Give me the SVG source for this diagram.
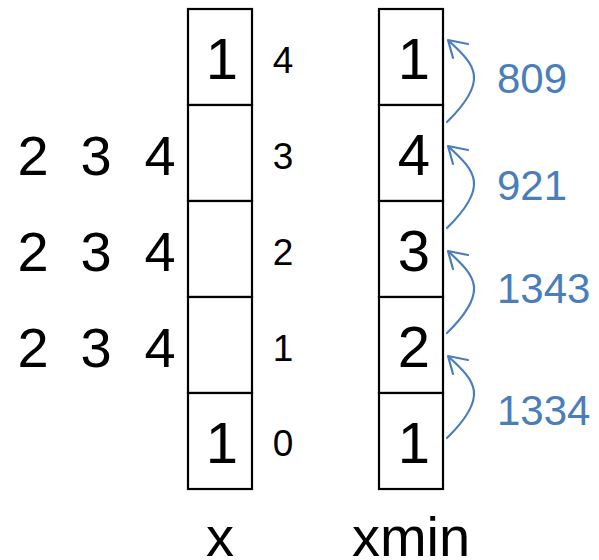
<svg xmlns="http://www.w3.org/2000/svg" xmlns:xlink="http://www.w3.org/1999/xlink" width="599" height="560" viewBox="0 0 599 560">
  <style>
    .cell { fill: #ffffff; stroke: #000000; stroke-width: 2.2; }
    .big { font-family: "Liberation Sans", Arial, sans-serif; font-size: 58px; fill: #000000; text-anchor: middle; }
    .side { font-family: "Liberation Sans", Arial, sans-serif; font-size: 56px; fill: #000000; text-anchor: middle; }
    .idx { font-family: "Liberation Sans", Arial, sans-serif; font-size: 37px; fill: #000000; text-anchor: middle; }
    .cost { font-family: "Liberation Sans", Arial, sans-serif; font-size: 42px; fill: #4a7ebb; }
    .arc { fill: none; stroke: #4a7ebb; stroke-width: 2.2; stroke-linecap: round; stroke-linejoin: round; }
  </style>
  <defs>
    <!-- curved link from one xmin cell up to the cell above; tip at (448,0) -->
    <g id="link">
      <path class="arc" d="M447,82 C490,40 475,25 449,1"/>
      <path class="arc" d="M468,4 L448,0 L453,18"/>
    </g>
  </defs>

  <rect width="599" height="560" fill="#ffffff"/>

  <!-- column x -->
  <g id="x-col">
    <rect class="cell" x="188" y="9" width="64" height="96"/>
    <rect class="cell" x="188" y="105" width="64" height="96"/>
    <rect class="cell" x="188" y="201" width="64" height="96"/>
    <rect class="cell" x="188" y="297" width="64" height="96"/>
    <rect class="cell" x="188" y="393" width="64" height="96"/>
    <text class="big" x="222" y="79">1</text>
    <text class="big" x="222" y="463">1</text>
    <text class="side" x="220" y="556">x</text>
  </g>

  <!-- candidate values beside x -->
  <g id="choices">
    <text class="side" x="33" y="175">2</text>
    <text class="side" x="96" y="175">3</text>
    <text class="side" x="160" y="175">4</text>
    <text class="side" x="33" y="271">2</text>
    <text class="side" x="96" y="271">3</text>
    <text class="side" x="160" y="271">4</text>
    <text class="side" x="33" y="367">2</text>
    <text class="side" x="96" y="367">3</text>
    <text class="side" x="160" y="367">4</text>
  </g>

  <!-- row indices -->
  <g id="indices">
    <text class="idx" x="283" y="73">4</text>
    <text class="idx" x="283" y="169">3</text>
    <text class="idx" x="283" y="265">2</text>
    <text class="idx" x="283" y="361">1</text>
    <text class="idx" x="283" y="456">0</text>
  </g>

  <!-- column xmin -->
  <g id="xmin-col">
    <rect class="cell" x="379" y="9" width="64" height="96"/>
    <rect class="cell" x="379" y="105" width="64" height="96"/>
    <rect class="cell" x="379" y="201" width="64" height="96"/>
    <rect class="cell" x="379" y="297" width="64" height="96"/>
    <rect class="cell" x="379" y="393" width="64" height="96"/>
    <text class="big" x="414" y="79">1</text>
    <text class="big" x="414" y="175">4</text>
    <text class="big" x="414" y="271">3</text>
    <text class="big" x="414" y="367">2</text>
    <text class="big" x="414" y="463">1</text>
    <text class="side" x="411" y="556">xmin</text>
  </g>

  <!-- links between xmin cells -->
  <g id="connectors">
    <use xlink:href="#link" transform="translate(0,40)"/>
    <use xlink:href="#link" transform="translate(0,146)"/>
    <use xlink:href="#link" transform="translate(0,251)"/>
    <use xlink:href="#link" transform="translate(0,356)"/>
  </g>

  <!-- link costs -->
  <g id="costs">
    <text class="cost" x="497" y="93">809</text>
    <text class="cost" x="497" y="200">921</text>
    <text class="cost" x="497" y="303">1343</text>
    <text class="cost" x="497" y="425">1334</text>
  </g>
</svg>
